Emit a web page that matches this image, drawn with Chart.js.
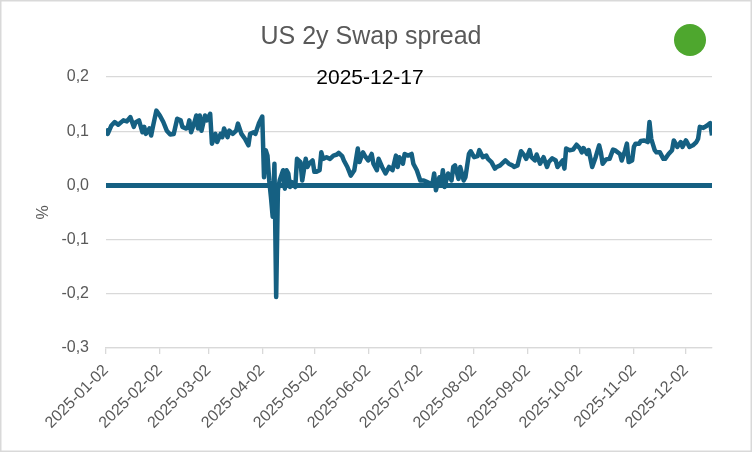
<!DOCTYPE html>
<html>
<head>
<meta charset="utf-8">
<title>US 2y Swap spread</title>
<script src="https://cdn.jsdelivr.net/npm/chart.js@4.4.1/dist/chart.umd.min.js"></script>
<style>
  html, body { margin: 0; padding: 0; background: #ffffff; }
  #wrap { position: relative; width: 752px; height: 452px; }
</style>
</head>
<body>
<div id="wrap"><canvas id="swapChart"></canvas></div>
<script>
// observation dates (one line per month)
var dates = [
  '2025-01-02','2025-01-03','2025-01-05','2025-01-07','2025-01-09','2025-01-12','2025-01-14','2025-01-16','2025-01-18','2025-01-19','2025-01-21','2025-01-23','2025-01-24','2025-01-25','2025-01-27','2025-01-28','2025-01-29','2025-01-31',
  '2025-02-02','2025-02-04','2025-02-06','2025-02-08','2025-02-10','2025-02-12','2025-02-14','2025-02-15','2025-02-17','2025-02-18','2025-02-19','2025-02-20','2025-02-22','2025-02-23','2025-02-24','2025-02-25','2025-02-26','2025-02-28',
  '2025-03-01','2025-03-03','2025-03-04','2025-03-06','2025-03-07','2025-03-09','2025-03-10','2025-03-11','2025-03-13','2025-03-14','2025-03-16','2025-03-18','2025-03-19','2025-03-21','2025-03-23','2025-03-25','2025-03-26','2025-03-28','2025-03-29','2025-03-31',
  '2025-04-02','2025-04-03','2025-04-04','2025-04-05','2025-04-06','2025-04-07','2025-04-08','2025-04-09','2025-04-10','2025-04-11','2025-04-12','2025-04-14','2025-04-15','2025-04-16','2025-04-17','2025-04-18','2025-04-19','2025-04-21','2025-04-22','2025-04-24','2025-04-25','2025-04-27','2025-04-28','2025-04-29',
  '2025-05-01','2025-05-02','2025-05-03','2025-05-05','2025-05-06','2025-05-07','2025-05-09','2025-05-11','2025-05-13','2025-05-15','2025-05-16','2025-05-18','2025-05-19','2025-05-21','2025-05-23','2025-05-25','2025-05-27','2025-05-28','2025-05-30','2025-05-31',
  '2025-06-02','2025-06-04','2025-06-05','2025-06-07','2025-06-08','2025-06-10','2025-06-12','2025-06-14','2025-06-16','2025-06-18','2025-06-19','2025-06-20','2025-06-22','2025-06-23','2025-06-25','2025-06-27','2025-06-28','2025-06-30',
  '2025-07-02','2025-07-04','2025-07-06','2025-07-08','2025-07-09','2025-07-10','2025-07-11','2025-07-13','2025-07-14','2025-07-15','2025-07-16','2025-07-18','2025-07-20','2025-07-21','2025-07-22','2025-07-24','2025-07-25','2025-07-27','2025-07-28','2025-07-30','2025-07-31',
  '2025-08-02','2025-08-04','2025-08-05','2025-08-07','2025-08-09','2025-08-10','2025-08-12','2025-08-14','2025-08-15','2025-08-17','2025-08-20','2025-08-22','2025-08-24','2025-08-25','2025-08-27','2025-08-29','2025-08-31',
  '2025-09-01','2025-09-03','2025-09-04','2025-09-06','2025-09-07','2025-09-09','2025-09-11','2025-09-13','2025-09-14','2025-09-16','2025-09-18','2025-09-19','2025-09-21','2025-09-22','2025-09-23','2025-09-24','2025-09-26','2025-09-28','2025-09-30',
  '2025-10-02','2025-10-03','2025-10-04','2025-10-06','2025-10-07','2025-10-09','2025-10-11','2025-10-13','2025-10-14','2025-10-15','2025-10-17','2025-10-19','2025-10-21','2025-10-22','2025-10-25','2025-10-26','2025-10-28','2025-10-29','2025-10-30',
  '2025-11-01','2025-11-02','2025-11-03','2025-11-05','2025-11-06','2025-11-08','2025-11-10','2025-11-11','2025-11-12','2025-11-14','2025-11-15','2025-11-17','2025-11-19','2025-11-20','2025-11-22','2025-11-24','2025-11-25','2025-11-27','2025-11-29','2025-11-30',
  '2025-12-02','2025-12-04','2025-12-06','2025-12-08','2025-12-09','2025-12-10','2025-12-12','2025-12-14','2025-12-16','2025-12-17'
];

// US 2y swap spread in %, same order as dates
var spread = [
  0.105,0.095,0.110,0.117,0.112,0.120,0.118,0.126,0.108,0.116,0.120,0.098,0.108,0.095,0.105,0.092,0.108,0.138,
  0.129,0.117,0.101,0.094,0.095,0.123,0.120,0.108,0.105,0.106,0.120,0.098,0.117,0.129,0.105,0.129,0.101,0.129,
  0.120,0.132,0.077,0.095,0.080,0.095,0.089,0.105,0.089,0.101,0.095,0.101,0.114,0.095,0.086,0.074,0.095,0.098,0.095,0.114,
  0.127,0.015,0.065,0.055,0.009,-0.022,-0.058,0.040,-0.206,-0.009,0.009,0.028,-0.006,0.028,0.022,-0.003,0.006,-0.003,0.049,0.043,0.009,0.049,0.034,0.040,
  0.046,0.025,0.025,0.028,0.061,0.049,0.052,0.049,0.055,0.057,0.060,0.054,0.046,0.034,0.018,0.028,0.068,0.043,0.061,0.055,
  0.046,0.058,0.040,0.028,0.049,0.034,0.022,0.034,0.028,0.055,0.034,0.052,0.040,0.058,0.055,0.058,0.040,0.028,
  0.009,0.009,0.006,0.003,0.003,0.022,-0.009,0.015,0.003,0.028,-0.003,0.022,0.009,0.034,0.037,0.012,0.034,0.009,0.015,0.058,0.063,
  0.052,0.054,0.065,0.052,0.055,0.049,0.043,0.031,0.034,0.037,0.046,0.040,0.037,0.034,0.037,0.063,0.055,
  0.049,0.065,0.052,0.046,0.057,0.040,0.052,0.034,0.043,0.050,0.046,0.034,0.042,0.046,0.031,0.068,0.065,0.066,0.075,
  0.068,0.061,0.069,0.058,0.065,0.034,0.052,0.074,0.061,0.040,0.048,0.049,0.066,0.065,0.058,0.046,0.065,0.077,0.043,
  0.046,0.071,0.077,0.077,0.082,0.083,0.080,0.117,0.086,0.065,0.061,0.061,0.049,0.049,0.058,0.065,0.083,0.071,0.080,0.071,
  0.083,0.071,0.074,0.080,0.086,0.108,0.106,0.110,0.115,0.092
];

// x axis labels, one per month
var tickDates = ['2025-01-02','2025-02-02','2025-03-02','2025-04-02','2025-05-02','2025-06-02',
                 '2025-07-02','2025-08-02','2025-09-02','2025-10-02','2025-11-02','2025-12-02'];

var yMin = -0.3, yMax = 0.2, yStep = 0.1;
var titleText = 'US 2y Swap spread';
var asOfText = '2025-12-17';

var FONT = '"Liberation Sans", Arial, sans-serif';
var GREY = '#595959';
var LINE = '#156082';

// days since the first date, used as x position on a linear axis
function dayOf(s) {
  var p = s.split('-');
  var f = dates[0].split('-');
  return Math.round((Date.UTC(+p[0], +p[1] - 1, +p[2]) - Date.UTC(+f[0], +f[1] - 1, +f[2])) / 86400000);
}

var points = dates.map(function (d, i) { return { x: dayOf(d), y: spread[i] }; });
var zeroLine = [{ x: dayOf(dates[0]), y: 0 }, { x: dayOf(dates[dates.length - 1]), y: 0 }];

var labelFor = {};
tickDates.forEach(function (d) { labelFor[dayOf(d)] = d; });

// frame, date box and green dot drawn on the canvas
var extras = {
  id: 'extras',
  beforeDraw: function (chart) {
    var ctx = chart.ctx;
    ctx.save();
    ctx.fillStyle = '#ffffff';
    ctx.fillRect(0, 0, chart.width, chart.height);
    ctx.strokeStyle = '#d9d9d9';
    ctx.lineWidth = 1.5;
    ctx.strokeRect(0.75, 0.75, chart.width - 1.5, chart.height - 1.5);
    ctx.restore();
  },
  afterDraw: function (chart) {
    var ctx = chart.ctx;
    ctx.save();
    ctx.font = '21px ' + FONT;
    ctx.fillStyle = '#000000';
    ctx.textAlign = 'center';
    ctx.textBaseline = 'middle';
    ctx.fillText(asOfText, chart.width / 2 - 6, chart.chartArea.top + 1);
    ctx.beginPath();
    ctx.arc(chart.width - 62, 40, 16, 0, Math.PI * 2);
    ctx.fillStyle = '#4ea72e';
    ctx.fill();
    ctx.restore();
  }
};

new Chart(document.getElementById('swapChart'), {
  type: 'line',
  data: {
    datasets: [{
      label: 'US 2y Swap spread',
      data: points,
      borderColor: LINE,
      borderWidth: 4.5,
      borderJoinStyle: 'round',
      pointRadius: 0,
      tension: 0
    }, {
      label: 'zero',
      data: zeroLine,
      borderColor: LINE,
      borderWidth: 5,
      pointRadius: 0
    }]
  },
  options: {
    responsive: true,
    maintainAspectRatio: false,
    animation: false,
    devicePixelRatio: 1,
    layout: { padding: { left: 30, right: 40, top: 0, bottom: 0 } },
    plugins: {
      legend: { display: false },
      tooltip: { enabled: false },
      title: {
        display: true,
        text: titleText,
        color: GREY,
        font: { family: FONT, size: 25, weight: 'normal' },
        padding: { top: 22, bottom: 25 }
      }
    },
    scales: {
      x: {
        type: 'linear',
        min: dayOf(dates[0]),
        max: dayOf(dates[dates.length - 1]),
        afterBuildTicks: function (scale) {
          scale.ticks = tickDates.map(function (d) { return { value: dayOf(d) }; });
        },
        afterFit: function (scale) { scale.height = 104; },
        grid: { drawOnChartArea: false, drawTicks: true, tickLength: 6, color: '#d9d9d9', lineWidth: 1.3 },
        border: { display: true, color: '#d9d9d9', width: 1.3 },
        ticks: {
          autoSkip: false,
          maxRotation: 45,
          minRotation: 45,
          padding: 7,
          color: GREY,
          font: { family: FONT, size: 16 },
          callback: function (v) { return labelFor[v] || ''; }
        }
      },
      y: {
        min: yMin,
        max: yMax,
        afterFit: function (scale) { scale.width = 76; },
        title: { display: true, text: '%', color: GREY, font: { family: FONT, size: 16 } },
        grid: { color: '#d9d9d9', lineWidth: 1.3, drawTicks: false },
        border: { display: false },
        ticks: {
          stepSize: yStep,
          padding: 17,
          color: GREY,
          font: { family: FONT, size: 16 },
          callback: function (v) { return v.toFixed(1).replace('.', ','); }
        }
      }
    }
  },
  plugins: [extras]
});
</script>
</body>
</html>
